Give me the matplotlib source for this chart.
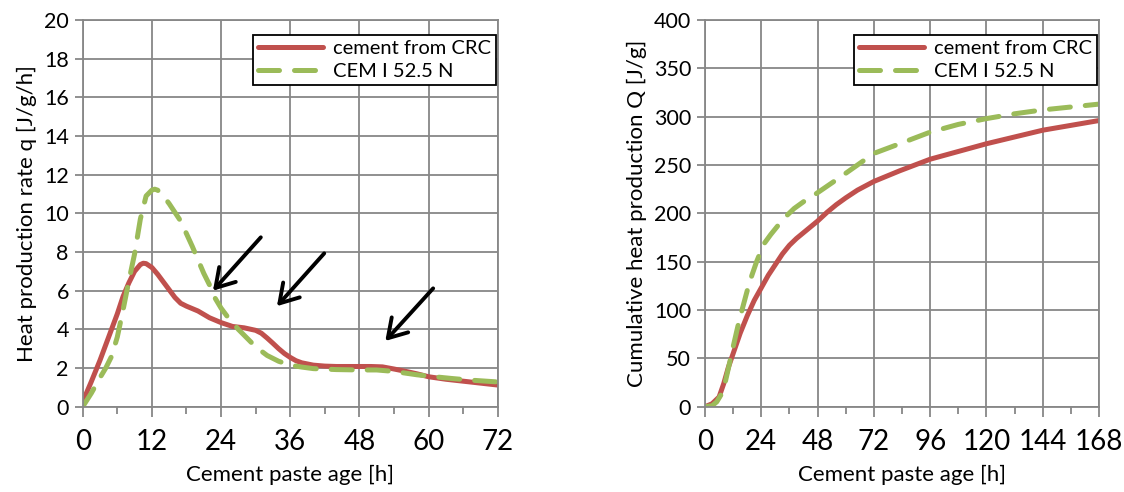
import matplotlib
matplotlib.use("Agg")
import matplotlib.pyplot as plt
import numpy as np
from matplotlib.ticker import MultipleLocator

plt.rcParams['font.family'] = ['Lato', 'DejaVu Sans']

# ---- Data: heat production rate (left) ----
rate_crc_t = [0, 1.5, 3, 4.5, 6, 7, 8, 9, 10, 10.5, 11, 12, 13, 14, 15, 16, 17, 18, 20, 22, 24, 26, 28, 30, 31, 32, 33, 34, 35, 36, 37, 38, 40, 42, 44, 48, 50, 52, 54, 56, 58, 60, 63, 66, 69, 72]
rate_crc_q = [0.25, 1.3, 2.4, 3.6, 4.8, 5.7, 6.4, 7.0, 7.35, 7.42, 7.4, 7.2, 6.85, 6.45, 6.05, 5.65, 5.35, 5.2, 4.95, 4.6, 4.35, 4.15, 4.08, 3.95, 3.8, 3.55, 3.28, 3.0, 2.75, 2.55, 2.38, 2.27, 2.15, 2.1, 2.08, 2.08, 2.08, 2.06, 1.95, 1.83, 1.7, 1.55, 1.42, 1.32, 1.22, 1.12]
rate_cem_t = [0, 1.5, 3, 4, 5, 6, 7, 8, 9, 10, 11, 12, 12.5, 13, 14, 15, 17, 19, 21, 22, 23, 24, 25, 26, 27, 28, 30, 32, 34, 36, 38, 40, 44, 48, 51, 53, 55, 58, 61, 64, 67, 70, 72]
rate_cem_q = [0.0, 0.7, 1.5, 2.0, 2.6, 3.6, 5.0, 6.5, 7.9, 9.7, 10.9, 11.2, 11.25, 11.2, 10.9, 10.5, 9.6, 8.3, 6.9, 6.3, 5.6, 5.1, 4.7, 4.35, 4.0, 3.7, 3.1, 2.65, 2.35, 2.15, 2.05, 1.97, 1.92, 1.9, 1.9, 1.85, 1.78, 1.65, 1.55, 1.46, 1.38, 1.32, 1.28]

# ---- Data: cumulative heat (right) ----
cum_crc_t = [0, 3, 6, 8, 10, 12, 15, 18, 21, 24, 27, 30, 33, 36, 39, 43, 48, 52, 56, 60, 65, 72, 83, 96, 108, 120, 132, 144, 156, 168]
cum_crc_q = [0, 3, 10, 24, 41, 55, 76, 94, 110, 123, 136, 147, 158, 167, 174, 182, 192, 201, 209, 216, 224, 233, 244, 256, 264, 272, 279, 286, 291, 296]
cum_cem_t = [0, 3, 5, 7, 8.5, 10, 12, 14, 16, 18, 20, 22, 25, 28, 31, 35, 38, 42, 46, 52, 58, 65, 72, 83, 96, 108, 120, 132, 144, 156, 168]
cum_cem_q = [0, 1, 5, 13, 24, 40, 62, 83, 102, 120, 136, 150, 168, 178, 187, 198, 205, 212, 218, 228, 238, 250, 262, 272, 284, 292, 298, 303, 307, 310, 313]

labels = ['cement from CRC', 'CEM I 52.5 N']

# arrows (tail -> head) in data coordinates of left chart
arrow_tails = [(30.9, 8.76), (41.9, 7.93), (60.8, 6.12)]
arrow_heads = [(22.6, 6.0), (33.7, 5.2), (52.5, 3.4)]

RED = '#C0504D'
GREEN = '#9BBB59'
GRID = '#878787'

fig = plt.figure(figsize=(11.24, 4.92), dpi=100)
W, H = 1124, 492
ax1 = fig.add_axes([82.7 / W, 1 - 406.7 / H, (497.7 - 82.7) / W, (406.7 - 20) / H])
ax2 = fig.add_axes([705 / W, 1 - 406.7 / H, (1099 - 705) / W, (406.7 - 20) / H])

def style(ax, xmax, xmaj, xmin, ymax, ymaj):
    ax.set_xlim(0, xmax)
    ax.set_ylim(0, ymax)
    ax.xaxis.set_major_locator(MultipleLocator(xmaj))
    ax.xaxis.set_minor_locator(MultipleLocator(xmin))
    ax.yaxis.set_major_locator(MultipleLocator(ymaj))
    ax.grid(True, which='major', color=GRID, lw=1.3)
    ax.set_axisbelow(True)
    for s in ax.spines.values():
        s.set_color(GRID)
        s.set_linewidth(1.3)
    ax.tick_params(axis='x', which='major', direction='out', length=7, width=1.3, color=GRID,
                   labelsize=20, pad=9)
    ax.tick_params(axis='x', which='minor', direction='out', length=5, width=1.3, color=GRID)
    ax.tick_params(axis='y', which='major', direction='out', length=6, width=1.3, color=GRID,
                   labelsize=15.5, pad=4)
    ax.set_xlabel('Cement paste age [h]', fontsize=16, labelpad=7)

style(ax1, 72, 12, 6, 20, 2)
style(ax2, 168, 24, 12, 400, 50)

ax1.plot(rate_crc_t, rate_crc_q, color=RED, lw=3.6, solid_capstyle='round', label=labels[0])
ax1.plot(rate_cem_t, rate_cem_q, color=GREEN, lw=3.6, dashes=[4.2, 3.0], dash_capstyle='round', label=labels[1])
ax2.plot(cum_crc_t, cum_crc_q, color=RED, lw=3.6, solid_capstyle='round', label=labels[0])
ax2.plot(cum_cem_t, cum_cem_q, color=GREEN, lw=3.6, dashes=[4.2, 3.0], dash_capstyle='round', label=labels[1])

for ax in (ax1, ax2):
    leg = ax.legend(loc='upper right', bbox_to_anchor=(0.995, 0.962), fontsize=14.5, frameon=True,
                    fancybox=False, edgecolor='black', framealpha=1, handlelength=3.2,
                    borderpad=0.25, labelspacing=0.3, handletextpad=0.5, borderaxespad=0)
    leg.get_frame().set_linewidth(1.3)

ax1.set_ylabel('Heat production rate q [J/g/h]', fontsize=16, labelpad=5)
ax2.set_ylabel('Cumulative heat production Q [J/g]', fontsize=16, labelpad=5)

for tail, head in zip(arrow_tails, arrow_heads):
    ax1.annotate('', xy=head, xytext=tail,
                 arrowprops=dict(arrowstyle='->,head_length=1.3,head_width=0.8', color='black',
                                 lw=2.8, shrinkA=0, shrinkB=0))

fig.savefig('out.png', dpi=100)
